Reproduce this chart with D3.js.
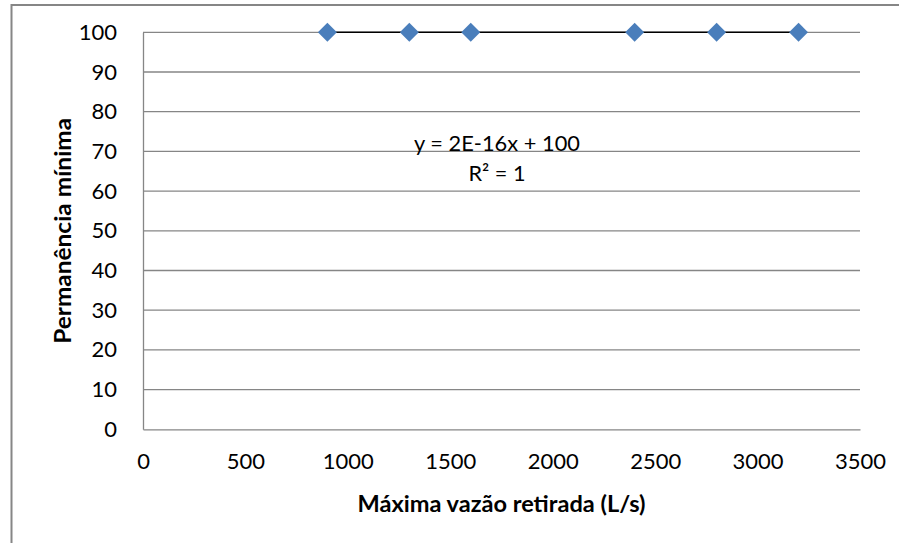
<!DOCTYPE html>
<html>
<head>
<meta charset="utf-8">
<script src="https://cdn.jsdelivr.net/npm/d3@7"></script>
<style>
  html, body { margin: 0; padding: 0; background: #fff; }
  svg { display: block; }
  text { font-family: Lato, "Open Sans", sans-serif; fill: #000; }
</style>
</head>
<body>
<svg id="chart" width="899" height="543"></svg>
<script>
// Data: maximum withdrawn flow (L/s) vs. minimum permanence (%)
const vazao = [900, 1300, 1600, 2400, 2800, 3200];
const permanencia = [100, 100, 100, 100, 100, 100];
const xTicks = [0, 500, 1000, 1500, 2000, 2500, 3000, 3500];
const yTicks = [0, 10, 20, 30, 40, 50, 60, 70, 80, 90, 100];
// Linear trend line coefficients (slope, intercept) and fit quality
const trendCoef = [2e-16, 100];
const trendLabels = ["y = 2E-16x + 100", "R² = 1"];

const svg = d3.select("#chart");
const gridColor = "#868686";

// Outer chart frame
svg.append("rect")
  .attr("x", 11.5).attr("y", 5)
  .attr("width", 1000).attr("height", 1000)
  .attr("fill", "none")
  .attr("stroke", gridColor)
  .attr("stroke-width", 2);

const x = d3.scaleLinear().domain([0, 3500]).range([143, 860]);
const y = d3.scaleLinear().domain([0, 100]).range([429.3, 32.3]);

// Horizontal gridlines
svg.append("g")
  .selectAll("line")
  .data(yTicks.filter(d => d !== 0))
  .join("line")
  .attr("x1", x(0)).attr("x2", x(3500))
  .attr("y1", d => y(d)).attr("y2", d => y(d))
  .attr("stroke", gridColor)
  .attr("stroke-width", 1.3);

// Y axis
const yAxis = svg.append("g")
  .attr("transform", `translate(${x(0)},0)`)
  .call(d3.axisLeft(y).tickValues(yTicks).tickSize(0).tickPadding(26).tickFormat(d3.format("d")));
yAxis.select(".domain").attr("stroke", gridColor).attr("stroke-width", 1.3);
yAxis.selectAll("text")
  .style("font-family", "Lato")
  .style("font-size", "22px")
  .attr("fill", "#000");

// X axis
const xAxis = svg.append("g")
  .attr("transform", `translate(0,${y(0)})`)
  .call(d3.axisBottom(x).tickValues(xTicks).tickSize(0).tickPadding(24).tickFormat(d3.format("d")));
xAxis.select(".domain").attr("stroke", gridColor).attr("stroke-width", 1.3);
xAxis.selectAll("text")
  .style("font-family", "Lato")
  .style("font-size", "22px")
  .attr("fill", "#000");

// Trend line across the data range
const xExt = d3.extent(vazao);
const trend = xv => trendCoef[0] * xv + trendCoef[1];
svg.append("line")
  .attr("x1", x(xExt[0])).attr("x2", x(xExt[1]))
  .attr("y1", y(trend(xExt[0]))).attr("y2", y(trend(xExt[1])))
  .attr("stroke", "#000")
  .attr("stroke-width", 1.6);

// Diamond markers
const diamond = d3.symbol().type(d3.symbolSquare).size(180);
svg.append("g")
  .selectAll("path")
  .data(vazao.map((v, i) => [v, permanencia[i]]))
  .join("path")
  .attr("d", diamond)
  .attr("transform", d => `translate(${x(d[0])},${y(d[1])}) rotate(45)`)
  .attr("fill", "#4a7ebb");

// Trend equation label
svg.append("g")
  .selectAll("text")
  .data(trendLabels)
  .join("text")
  .attr("x", 497)
  .attr("y", (d, i) => 151 + i * 30)
  .attr("text-anchor", "middle")
  .attr("textLength", (d, i) => i === 0 ? 166 : 57)
  .attr("lengthAdjust", "spacingAndGlyphs")
  .style("font-size", "22px")
  .text(d => d);

// Axis titles
svg.append("text")
  .attr("x", (x(0) + x(3500)) / 2)
  .attr("y", 512)
  .attr("text-anchor", "middle")
  .attr("textLength", 288)
  .attr("lengthAdjust", "spacingAndGlyphs")
  .style("font-size", "22px")
  .style("font-weight", "bold")
  .text("Máxima vazão retirada (L/s)");

svg.append("text")
  .attr("transform", `translate(71,${(y(0) + y(100)) / 2}) rotate(-90)`)
  .attr("text-anchor", "middle")
  .attr("textLength", 226)
  .attr("lengthAdjust", "spacingAndGlyphs")
  .style("font-size", "22px")
  .style("font-weight", "bold")
  .text("Permanência mínima");
</script>
</body>
</html>
